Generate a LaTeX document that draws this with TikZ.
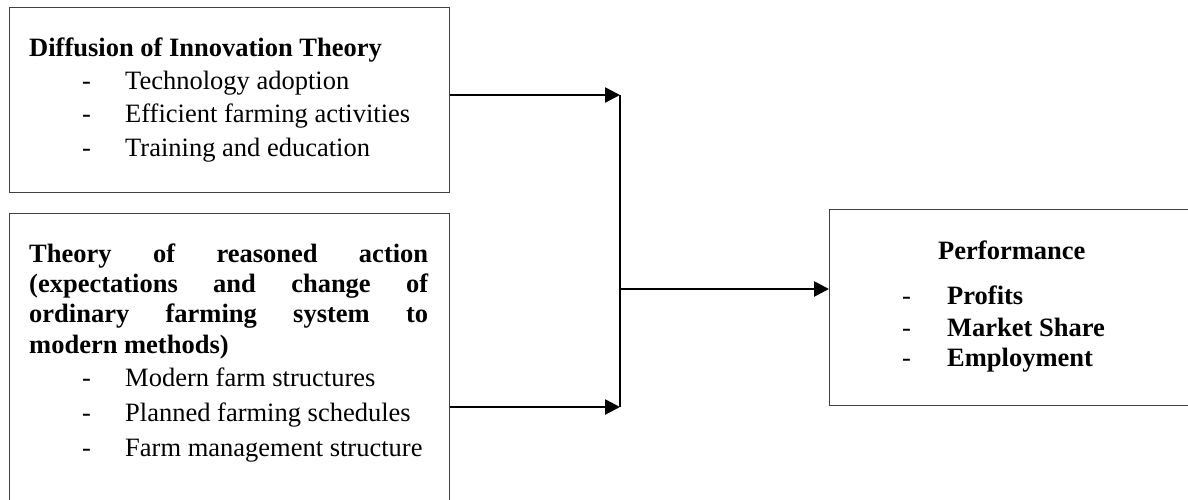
\documentclass[tikz,border=0pt]{standalone}
\usepackage{fontspec}
\setmainfont{Liberation Serif}
\usetikzlibrary{arrows.meta}
\begin{document}
\begin{tikzpicture}[x=1pt,y=-1pt,
  box/.style={draw=black!75,line width=1.3pt,inner sep=0pt,anchor=north west},
  txt/.style={anchor=base west,inner sep=0pt,font=\fontsize{26.5}{33}\selectfont},
  btxt/.style={anchor=base west,inner sep=0pt,font=\fontsize{26.5}{33}\selectfont\bfseries},
  conn/.style={line width=2.2pt,black},
  arr/.style={line width=2.6pt,black,-{Triangle[length=15pt,width=15pt]}}]
\useasboundingbox (0,0) rectangle (1188,499);
% boxes
\node[box,minimum width=440pt,minimum height=185pt] (b1) at (9,7) {};
\node[box,minimum width=440pt,minimum height=300pt] (b2) at (9,213) {};
\node[box,minimum width=372pt,minimum height=196pt] (b3) at (829,209) {};
% box 1 text
\node[btxt] (t1) at (29,56) {Diffusion of Innovation Theory};
\node[txt] (d11) at (82,89) {-};
\node[txt] (i11) at (125,89) {Technology adoption};
\node[txt] (d12) at (82,122) {-};
\node[txt] (i12) at (125,122) {Efficient farming activities};
\node[txt] (d13) at (82,156) {-};
\node[txt] (i13) at (125,156) {Training and education};
% box 2 text
\node[btxt] (t21) at (29,262) {\makebox[399pt][s]{Theory of reasoned action}};
\node[btxt] (t22) at (29,292) {\makebox[399pt][s]{(expectations and change of}};
\node[btxt] (t23) at (29,322) {\makebox[399pt][s]{ordinary farming system to}};
\node[btxt] (t24) at (29,353) {modern methods)};
\node[txt] (d21) at (82,386) {-};
\node[txt] (i21) at (125,386) {Modern farm structures};
\node[txt] (d22) at (82,421) {-};
\node[txt] (i22) at (125,421) {Planned farming schedules};
\node[txt] (d23) at (82,456) {-};
\node[txt] (i23) at (125,456) {Farm management structure};
% box 3 text
\node[btxt] (t3) at (938,259) {Performance};
\node[txt] (d31) at (902,304) {-};
\node[btxt] (i31) at (947,304) {Profits};
\node[txt] (d32) at (902,336) {-};
\node[btxt] (i32) at (947,336) {Market Share};
\node[txt] (d33) at (902,366) {-};
\node[btxt] (i33) at (947,366) {Employment};
% connectors
\coordinate (jt) at (620,95);
\coordinate (jm) at (620,289);
\coordinate (jb) at (620,407);
\draw[arr] (b1.east |- jt) -- (jt);
\draw[arr] (b2.east |- jb) -- (jb);
\draw[conn] (jt) -- (jb);
\draw[arr] (jm) -- (b3.west |- jm);
\end{tikzpicture}
\end{document}
